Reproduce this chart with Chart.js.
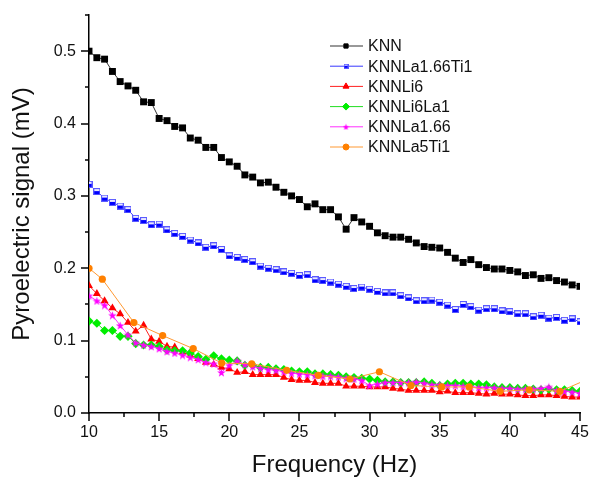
<!DOCTYPE html>
<html>
<head>
<meta charset="utf-8">
<title>Pyroelectric signal vs frequency</title>
<script src="https://cdn.jsdelivr.net/npm/chart.js@4.4.1/dist/chart.umd.min.js"></script>
<style>
  html, body { margin: 0; padding: 0; background: #ffffff; }
  #wrap { width: 590px; height: 477px; }
</style>
</head>
<body>
<div id="wrap"><canvas id="myChart" width="590" height="477"></canvas></div>
<script>
// frequency grid shared by the dense series (Hz)
const freq = [10.00, 10.56, 11.11, 11.67, 12.22, 12.78, 13.33, 13.89, 14.44, 15.00,
  15.56, 16.11, 16.67, 17.22, 17.78, 18.33, 18.89, 19.44, 20.00, 20.56,
  21.11, 21.67, 22.22, 22.78, 23.33, 23.89, 24.44, 25.00, 25.56, 26.11,
  26.67, 27.22, 27.78, 28.33, 28.89, 29.44, 30.00, 30.56, 31.11, 31.67,
  32.22, 32.78, 33.33, 33.89, 34.44, 35.00, 35.56, 36.11, 36.67, 37.22,
  37.78, 38.33, 38.89, 39.44, 40.00, 40.56, 41.11, 41.67, 42.22, 42.78,
  43.33, 43.89, 44.44, 45.00];

const knn = [0.500, 0.491, 0.489, 0.472, 0.458, 0.452, 0.446, 0.430, 0.429, 0.407,
  0.404, 0.396, 0.394, 0.380, 0.377, 0.367, 0.367, 0.353, 0.347, 0.341,
  0.329, 0.326, 0.318, 0.319, 0.312, 0.305, 0.300, 0.295, 0.285, 0.289,
  0.281, 0.281, 0.271, 0.254, 0.270, 0.264, 0.258, 0.249, 0.245, 0.243,
  0.243, 0.240, 0.235, 0.230, 0.229, 0.228, 0.222, 0.214, 0.208, 0.212,
  0.205, 0.201, 0.199, 0.199, 0.197, 0.195, 0.190, 0.191, 0.186, 0.187,
  0.183, 0.181, 0.177, 0.175];

const knnLa166Ti1 = [0.316, 0.306, 0.297, 0.291, 0.286, 0.281, 0.269, 0.266, 0.260, 0.261,
  0.253, 0.248, 0.244, 0.239, 0.235, 0.229, 0.231, 0.226, 0.217, 0.215,
  0.212, 0.209, 0.203, 0.200, 0.198, 0.195, 0.193, 0.190, 0.191, 0.184,
  0.183, 0.181, 0.178, 0.175, 0.172, 0.174, 0.171, 0.168, 0.166, 0.166,
  0.162, 0.159, 0.155, 0.155, 0.156, 0.153, 0.149, 0.143, 0.150, 0.147,
  0.142, 0.144, 0.144, 0.141, 0.140, 0.137, 0.137, 0.133, 0.135, 0.131,
  0.132, 0.128, 0.130, 0.126];

const knnLi6 = [0.176, 0.165, 0.155, 0.145, 0.137, 0.125, 0.113, 0.121, 0.102, 0.099,
  0.092, 0.091, 0.084, 0.080, 0.075, 0.070, 0.067, 0.063, 0.061, 0.056,
  0.057, 0.053, 0.053, 0.053, 0.053, 0.049, 0.046, 0.045, 0.045, 0.042,
  0.041, 0.041, 0.041, 0.037, 0.037, 0.037, 0.036, 0.036, 0.036, 0.034,
  0.033, 0.031, 0.031, 0.031, 0.031, 0.029, 0.030, 0.028, 0.028, 0.028,
  0.027, 0.026, 0.027, 0.026, 0.026, 0.025, 0.024, 0.024, 0.025, 0.025,
  0.024, 0.023, 0.022, 0.022];

const knnLi6La1 = [0.127, 0.124, 0.114, 0.114, 0.106, 0.106, 0.096, 0.094, 0.094, 0.092,
  0.087, 0.086, 0.086, 0.083, 0.078, 0.074, 0.079, 0.075, 0.073, 0.072,
  0.066, 0.066, 0.063, 0.063, 0.061, 0.060, 0.058, 0.057, 0.057, 0.054,
  0.054, 0.053, 0.052, 0.050, 0.049, 0.048, 0.047, 0.045, 0.043, 0.043,
  0.042, 0.042, 0.042, 0.043, 0.041, 0.038, 0.040, 0.041, 0.041, 0.040,
  0.040, 0.039, 0.036, 0.035, 0.035, 0.034, 0.034, 0.033, 0.032, 0.033,
  0.032, 0.032, 0.031, 0.030];

const knnLa166 = [0.162, 0.155, 0.149, 0.135, 0.121, 0.108, 0.097, 0.094, 0.092, 0.089,
  0.085, 0.083, 0.080, 0.077, 0.074, 0.070, 0.068, 0.056, 0.066, 0.072,
  0.067, 0.064, 0.062, 0.060, 0.059, 0.057, 0.055, 0.054, 0.053, 0.052,
  0.051, 0.051, 0.050, 0.048, 0.047, 0.045, 0.038, 0.040, 0.042, 0.042,
  0.042, 0.042, 0.043, 0.041, 0.039, 0.039, 0.038, 0.038, 0.037, 0.036,
  0.035, 0.035, 0.035, 0.034, 0.034, 0.033, 0.033, 0.033, 0.034, 0.036,
  0.031, 0.030, 0.029, 0.027];

// sparser sampling for KNNLa5Ti1
const freqLa5Ti1 = [10.00, 10.95, 13.20, 15.25, 17.43, 19.46, 21.60, 24.09, 26.35, 28.60,
  30.70, 32.95, 35.14, 37.10, 39.30, 41.38, 43.57, 45.00];
const knnLa5Ti1 = [0.200, 0.185, 0.125, 0.107, 0.089, 0.069, 0.068, 0.059, 0.052, 0.047,
  0.057, 0.038, 0.036, 0.036, 0.030, 0.032, 0.030, 0.042];

const seriesNames = ['KNN', 'KNNLa1.66Ti1', 'KNNLi6', 'KNNLi6La1', 'KNNLa1.66', 'KNNLa5Ti1'];
const yTicks = ['0.0', '0.1', '0.2', '0.3', '0.4', '0.5'];
const xTicks = ['10', '15', '20', '25', '30', '35', '40', '45'];

const FONT = '"Liberation Sans", Arial, sans-serif';

function toPoints(xs, ys) {
  return ys.map((v, i) => ({ x: xs[i], y: v }));
}

// half-filled square marker (open top, filled bottom)
function halfSquare(size) {
  const c = document.createElement('canvas');
  c.width = size; c.height = size;
  const g = c.getContext('2d');
  g.fillStyle = '#e8e8ff';
  g.fillRect(0, 0, size, size);
  g.fillStyle = '#0000ff';
  g.fillRect(0, Math.floor(size / 2), size, Math.ceil(size / 2));
  g.strokeStyle = '#5a5aff';
  g.lineWidth = 1;
  g.strokeRect(0.5, 0.5, size - 1, size - 1);
  return c;
}

// filled five point star
function starMark(color, size) {
  const c = document.createElement('canvas');
  c.width = size; c.height = size;
  const g = c.getContext('2d');
  g.fillStyle = color;
  g.beginPath();
  for (let k = 0; k < 10; k++) {
    const r = k % 2 ? size * 0.2 : size / 2;
    const a = -Math.PI / 2 + k * Math.PI / 5;
    g.lineTo(size / 2 + r * Math.cos(a), size / 2 + 0.5 + r * Math.sin(a));
  }
  g.closePath();
  g.fill();
  return c;
}

const blueMark = halfSquare(7);
const blueMarkSmall = halfSquare(5);
const starBig = starMark('#ff00ff', 9);
const starSmall = starMark('#ff00ff', 7);

// axis ticks, major long and minor short, drawn outside the plot
const tickPlugin = {
  id: 'axisTicks',
  afterDraw(chart) {
    const ctx = chart.ctx;
    const xs = chart.scales.x, ys = chart.scales.y;
    const area = chart.chartArea;
    ctx.save();
    ctx.strokeStyle = '#000';
    ctx.lineWidth = 1.5;
    xs.ticks.forEach(t => {
      const px = Math.round(xs.getPixelForValue(t.value));
      const major = Math.round(t.value * 10) % 50 === 0;
      ctx.beginPath();
      ctx.moveTo(px, area.bottom);
      ctx.lineTo(px, area.bottom + (major ? 8 : 4));
      ctx.stroke();
    });
    ys.ticks.forEach(t => {
      const py = Math.round(ys.getPixelForValue(t.value));
      const major = Math.round(t.value * 100) % 10 === 0;
      ctx.beginPath();
      ctx.moveTo(area.left, py);
      ctx.lineTo(area.left - (major ? 8 : 4), py);
      ctx.stroke();
    });
    ctx.restore();
  }
};

// legend with line + marker, inside the plot at the upper right
const legendPlugin = {
  id: 'lineLegend',
  afterDraw(chart) {
    const ctx = chart.ctx;
    chart.data.datasets.forEach((ds, i) => {
      const y = 46 + i * 20.2;
      ctx.save();
      ctx.strokeStyle = ds.borderColor;
      ctx.lineWidth = 1;
      ctx.beginPath();
      ctx.moveTo(330, y);
      ctx.lineTo(363, y);
      ctx.stroke();
      ctx.fillStyle = ds.pointBackgroundColor;
      ctx.strokeStyle = ds.pointBorderColor;
      Chart.helpers.drawPoint(ctx, {
        pointStyle: ds.legendStyle,
        radius: ds.legendRadius,
        borderWidth: 0.5,
        rotation: 0
      }, 346, y);
      ctx.fillStyle = '#111';
      ctx.font = '16px ' + FONT;
      ctx.textBaseline = 'middle';
      ctx.textAlign = 'left';
      ctx.fillText(ds.label, 368, y + 1);
      ctx.restore();
    });
  }
};

const colors = ['#000000', '#0000ff', '#ff0000', '#00ee00', '#ff00ff', '#ff8000'];
const lineColors = ['#333333', '#3838ff', '#ff2020', '#22dd22', '#ff30ff', '#ff9933'];

const datasets = [
  {
    label: seriesNames[0], data: toPoints(freq, knn),
    pointStyle: 'rect', pointRadius: 4.9, legendStyle: 'rect', legendRadius: 3
  },
  {
    label: seriesNames[1], data: toPoints(freq, knnLa166Ti1),
    pointStyle: blueMark, pointRadius: 3.5, legendStyle: blueMarkSmall, legendRadius: 3
  },
  {
    label: seriesNames[2], data: toPoints(freq, knnLi6),
    pointStyle: 'triangle', pointRadius: 4.6, legendStyle: 'triangle', legendRadius: 3.5
  },
  {
    label: seriesNames[3], data: toPoints(freq, knnLi6La1),
    pointStyle: 'rectRot', pointRadius: 4.6, legendStyle: 'rectRot', legendRadius: 3.5
  },
  {
    label: seriesNames[4], data: toPoints(freq, knnLa166),
    pointStyle: starBig, pointRadius: 4, legendStyle: starSmall, legendRadius: 3
  },
  {
    label: seriesNames[5], data: toPoints(freqLa5Ti1, knnLa5Ti1),
    pointStyle: 'circle', pointRadius: knnLa5Ti1.map((v, i) => i === knnLa5Ti1.length - 1 ? 0 : 3.6),
    legendStyle: 'circle', legendRadius: 3
  }
];

datasets.forEach((ds, i) => {
  ds.showLine = true;
  ds.borderColor = lineColors[i];
  ds.borderWidth = 1;
  ds.backgroundColor = colors[i];
  ds.pointBackgroundColor = colors[i];
  ds.pointBorderColor = colors[i];
  ds.pointBorderWidth = 0;
  ds.pointHoverRadius = 0;
  ds.order = datasets.length - i;
});

const ctx = document.getElementById('myChart').getContext('2d');
const myChart = new Chart(ctx, {
  type: 'scatter',
  data: { datasets: datasets },
  options: {
    responsive: false,
    animation: false,
    devicePixelRatio: 1,
    layout: { padding: { top: 15, right: 10, left: 0, bottom: 0 } },
    plugins: {
      legend: { display: false },
      tooltip: { enabled: false }
    },
    scales: {
      x: {
        type: 'linear',
        min: 10, max: 45,
        grid: { display: false, drawTicks: false },
        border: { display: true, color: '#000', width: 1.5 },
        ticks: {
          stepSize: 2.5,
          autoSkip: false,
          maxRotation: 0,
          padding: 10,
          color: '#111',
          font: { family: FONT, size: 16 },
          callback: v => {
            const k = Math.round(v * 10);
            return k % 50 === 0 ? xTicks[(k / 10 - 10) / 5] : '';
          }
        },
        title: {
          display: true,
          text: 'Frequency (Hz)',
          color: '#111',
          font: { family: FONT, size: 24, lineHeight: 1.0 },
          padding: { top: 0, bottom: 0 }
        },
        afterFit: s => { s.height = 64; s.paddingLeft = 0; s.paddingRight = 0; }
      },
      y: {
        type: 'linear',
        min: 0, max: 0.55,
        grid: { display: false, drawTicks: false },
        border: { display: true, color: '#000', width: 1.5 },
        ticks: {
          stepSize: 0.05,
          autoSkip: false,
          padding: 13,
          color: '#111',
          font: { family: FONT, size: 16 },
          callback: v => {
            const k = Math.round(v * 100);
            return k % 10 === 0 ? yTicks[k / 10] : '';
          }
        },
        title: {
          display: true,
          text: 'Pyroelectric signal (mV)',
          color: '#111',
          font: { family: FONT, size: 24 },
          padding: { top: 8, bottom: 0 }
        },
        afterFit: s => { s.width = 89; s.paddingTop = 0; s.paddingBottom = 0; }
      }
    }
  },
  plugins: [tickPlugin, legendPlugin]
});
</script>
</body>
</html>
